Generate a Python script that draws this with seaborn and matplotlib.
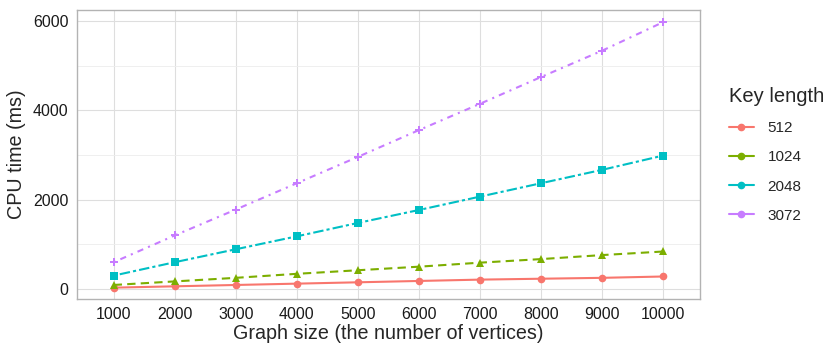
import matplotlib
matplotlib.use("Agg")
import matplotlib.pyplot as plt
from matplotlib.lines import Line2D
import seaborn as sns
import pandas as pd

graph_sizes = [1000, 2000, 3000, 4000, 5000, 6000, 7000, 8000, 9000, 10000]
key_lengths = ["512", "1024", "2048", "3072"]
cpu_512 = [30, 60, 90, 120, 150, 180, 210, 230, 250, 280]
cpu_1024 = [90, 170, 250, 340, 420, 500, 590, 670, 760, 840]
cpu_2048 = [300, 600, 890, 1180, 1480, 1770, 2070, 2370, 2670, 2990]
cpu_3072 = [600, 1200, 1780, 2370, 2960, 3560, 4150, 4750, 5340, 5980]

rows = []
for k, vals in zip(key_lengths, [cpu_512, cpu_1024, cpu_2048, cpu_3072]):
    for g, v in zip(graph_sizes, vals):
        rows.append({"size": g, "cpu": v, "key": k})
df = pd.DataFrame(rows)

sns.set_theme(style="white")
plt.rcParams['font.family'] = ['Liberation Sans', 'DejaVu Sans']

colors = ["#F8766D", "#7CAE00", "#00BFC4", "#C77CFF"]
palette = dict(zip(key_lengths, colors))
dashes = {"512": "", "1024": (4, 2.5), "2048": (1.5, 1.5, 5, 1.5), "3072": (1, 2.5, 3, 2.5)}
markers = {"512": "o", "1024": "^", "2048": "s", "3072": "P"}

fig = plt.figure(figsize=(8.3, 3.56), dpi=100)
ax = fig.add_axes([0.0928, 0.160, 0.7506, 0.813])

sns.lineplot(data=df, x="size", y="cpu", hue="key", style="key", palette=palette,
             dashes=dashes, markers=markers, markersize=5.5, markeredgewidth=0,
             linewidth=1.5, ax=ax, legend=False)

ax.set_xlim(400, 10600)
ax.set_ylim(-225, 6258)
ax.set_xticks(graph_sizes)
ax.set_xticklabels([str(g) for g in graph_sizes])
ax.set_yticks([0, 2000, 4000, 6000])
ax.set_yticks([1000, 3000, 5000], minor=True)
ax.grid(True, which="major", color="#DEDEDE", linewidth=0.8)
ax.grid(True, which="minor", axis="y", color="#EDEDED", linewidth=0.6)
ax.set_axisbelow(True)
for s in ax.spines.values():
    s.set_color("#B3B3B3")
    s.set_linewidth(1.0)
ax.tick_params(axis="both", which="major", length=3, color="#B3B3B3", width=0.8,
               labelsize=11.5, labelcolor="#1A1A1A", pad=3)
ax.tick_params(axis="y", which="minor", length=0)
ax.set_xlabel("Graph size (the number of vertices)", fontsize=14.2, labelpad=1)
ax.set_ylabel("CPU time (ms)", fontsize=14.2, labelpad=5)

handles = [Line2D([0], [0], color=c, marker="o", markersize=4.5, linewidth=1.5)
           for c in colors]
leg = fig.legend(handles, key_lengths, title="Key length", loc="upper left",
                 bbox_to_anchor=(0.862, 0.795), frameon=False, fontsize=11,
                 title_fontsize=14.5, handlelength=1.6, labelspacing=1.0,
                 handletextpad=0.9)
leg._legend_box.align = "left"

fig.savefig("out.png", dpi=100)
